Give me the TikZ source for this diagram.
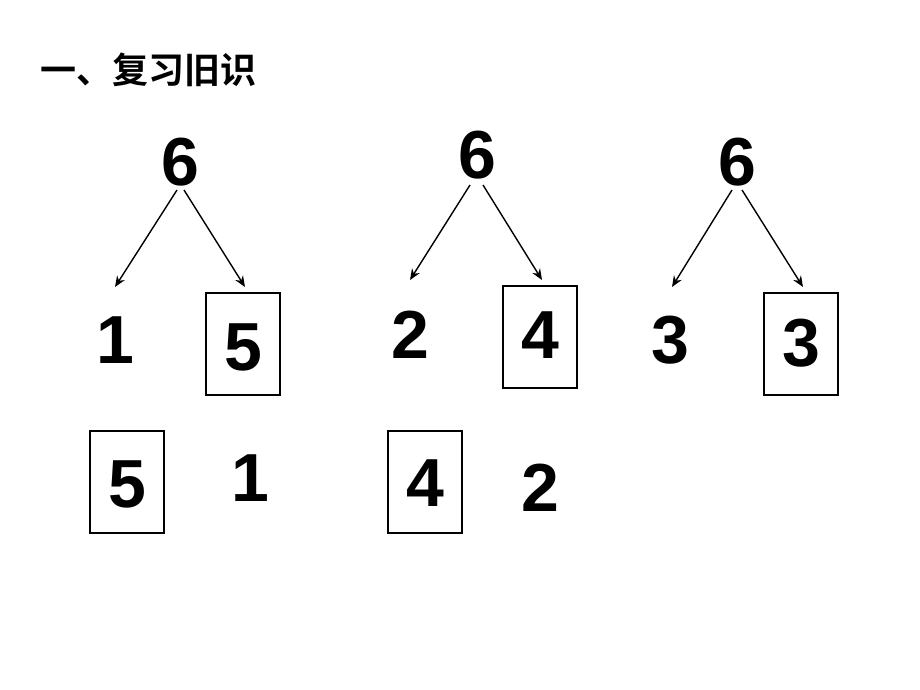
\documentclass[tikz,border=0pt]{standalone}
\usepackage{fontspec}
\setmainfont{Liberation Sans}
\newfontfamily\cjk{Noto Sans CJK SC}[BoldFont={Noto Sans CJK SC Bold}]
\usetikzlibrary{arrows.meta}
\begin{document}
\begin{tikzpicture}[x=1pt,y=-1pt,
  num/.style={font=\fontsize{68}{68}\selectfont\bfseries, inner sep=0pt},
  box/.style={draw, line width=1.5pt, minimum width=74pt, minimum height=102pt, inner sep=0pt},
  arr/.style={-{Stealth[length=11pt,width=9pt]}, line width=1.4pt}]
\useasboundingbox (0,0) rectangle (920,690);
\node[anchor=west, inner sep=0pt, font=\cjk\bfseries\fontsize{36}{36}\selectfont] (title) at (40,70) {一、复习旧识};
% tree 1
\node[num] (s1) at (180,162) {6};
\node[num] (a1) at (115,340) {1};
\node[box] (b1) at (243,344) {};
\node[num] (n1) at (243,347) {5};
\coordinate (t1l) at (115,287); \coordinate (t1r) at (245,287);
\draw[arr] (177,190) -- (t1l);
\draw[arr] (184,190) -- (t1r);
\node[box] (b2) at (127,482) {};
\node[num] (n2) at (127,484) {5};
\node[num] (a2) at (250,478) {1};
% tree 2
\node[num] (s2) at (477,155) {6};
\node[num] (a3) at (410,335) {2};
\node[box] (b3) at (540,337) {};
\node[num] (n3) at (540,335) {4};
\coordinate (t2l) at (410,280); \coordinate (t2r) at (542,280);
\draw[arr] (470,185) -- (t2l);
\draw[arr] (483,185) -- (t2r);
\node[box] (b4) at (425,482) {};
\node[num] (n4) at (425,483) {4};
\node[num] (a4) at (540,488) {2};
% tree 3
\node[num] (s3) at (737,162) {6};
\node[num] (a5) at (670,340) {3};
\node[box] (b5) at (801,344) {};
\node[num] (n5) at (801,343) {3};
\coordinate (t3l) at (672,287); \coordinate (t3r) at (803,287);
\draw[arr] (732,190) -- (t3l);
\draw[arr] (742,190) -- (t3r);
\end{tikzpicture}
\end{document}
